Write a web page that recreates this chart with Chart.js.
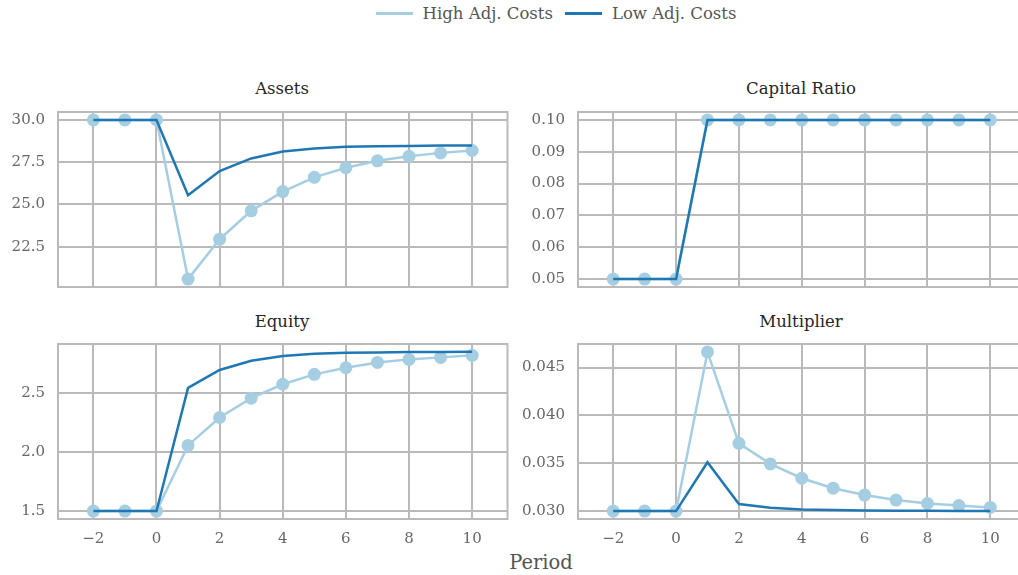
<!DOCTYPE html>
<html>
<head>
<meta charset="utf-8">
<script src="https://cdn.jsdelivr.net/npm/chart.js@4"></script>
<style>
  html, body { margin: 0; padding: 0; background: #fff; overflow: hidden; }
  body { width: 1018px; height: 575px; position: relative; font-family: "DejaVu Serif", serif; }
  .panel { position: absolute; }
  .title { position: absolute; font-size: 16.5px; color: #262626; text-align: center; transform: translateX(-50%); white-space: nowrap; }
  #legend { position: absolute; top: 4px; left: 0; width: 1100px; display: flex; justify-content: center; align-items: center; font-size: 16.5px; color: #555; }
  #legend span.sw { display: inline-block; width: 37px; height: 3px; margin: 0 10px 0 12px; }
  #period { position: absolute; top: 551px; left: 541px; transform: translateX(-50%); font-size: 19.5px; color: #555; }
</style>
</head>
<body>
<div id="legend">
  <span class="sw" style="background:#a6cee3"></span><span>High Adj. Costs</span>
  <span class="sw" style="background:#1f78b4"></span><span>Low Adj. Costs</span>
</div>

<div class="title" style="left:282px; top:79px">Assets</div>
<div class="title" style="left:801px; top:79px">Capital Ratio</div>
<div class="title" style="left:282px; top:312px">Equity</div>
<div class="title" style="left:801px; top:312px">Multiplier</div>
<div id="period">Period</div>

<div class="panel" style="left:0px; top:100px; width:514px; height:200px"><canvas id="assets"></canvas></div>
<div class="panel" style="left:520px; top:100px; width:512px; height:200px"><canvas id="capital"></canvas></div>
<div class="panel" style="left:0px; top:330px; width:514px; height:219px"><canvas id="equity"></canvas></div>
<div class="panel" style="left:520px; top:330px; width:512px; height:219px"><canvas id="multiplier"></canvas></div>

<script>
// data
const periods = [-2, -1, 0, 1, 2, 3, 4, 5, 6, 7, 8, 9, 10];
const xTicks = [-2, 0, 2, 4, 6, 8, 10];

const assetsHigh = [30, 30, 30, 20.58, 22.94, 24.62, 25.76, 26.60, 27.17, 27.58, 27.85, 28.05, 28.19];
const assetsLow  = [30, 30, 30, 25.54, 26.97, 27.72, 28.13, 28.31, 28.41, 28.44, 28.46, 28.48, 28.49];
const assetsTicks = [22.5, 25, 27.5, 30];

const capitalHigh = [0.05, 0.05, 0.05, 0.10, 0.10, 0.10, 0.10, 0.10, 0.10, 0.10, 0.10, 0.10, 0.10];
const capitalLow  = [0.05, 0.05, 0.05, 0.10, 0.10, 0.10, 0.10, 0.10, 0.10, 0.10, 0.10, 0.10, 0.10];
const capitalTicks = [0.05, 0.06, 0.07, 0.08, 0.09, 0.10];

const equityHigh = [1.5, 1.5, 1.5, 2.057, 2.294, 2.458, 2.576, 2.660, 2.716, 2.761, 2.787, 2.804, 2.821];
const equityLow  = [1.5, 1.5, 1.5, 2.545, 2.697, 2.775, 2.815, 2.834, 2.843, 2.846, 2.849, 2.850, 2.852];
const equityTicks = [1.5, 2.0, 2.5];

const multHigh = [0.03, 0.03, 0.03, 0.04663, 0.03708, 0.03493, 0.03343, 0.03239, 0.03167, 0.03115, 0.03079, 0.03058, 0.03038];
const multLow  = [0.03, 0.03, 0.03, 0.03510, 0.03073, 0.03034, 0.03017, 0.03010, 0.03006, 0.03004, 0.03002, 0.03001, 0.03000];
const multTicks = [0.030, 0.035, 0.040, 0.045];

const lightBlue = '#a6cee3';
const darkBlue = '#1f78b4';
const gridColor = '#bababa';
const tickColor = '#666666';

// matplotlib-style frame around the plot area
const framePlugin = {
    id: 'frame',
    beforeDatasetsDraw(chart) {
        const a = chart.chartArea;
        const ctx = chart.ctx;
        ctx.save();
        ctx.strokeStyle = gridColor;
        ctx.lineWidth = 2;
        ctx.strokeRect(a.left, a.top, a.right - a.left, a.bottom - a.top);
        ctx.restore();
    }
};

function makeChart(id, high, low, yMin, yMax, yTicks, decimals, showX) {
    const ctx = document.getElementById(id).getContext('2d');
    return new Chart(ctx, {
        type: 'line',
        data: {
            datasets: [
                {
                    label: 'High Adj. Costs',
                    data: periods.map((p, i) => ({ x: p, y: high[i] })),
                    borderColor: lightBlue,
                    backgroundColor: lightBlue,
                    borderWidth: 2.5,
                    pointRadius: 6.5,
                    pointBorderWidth: 0,
                    pointBackgroundColor: lightBlue,
                    order: 1,
                },
                {
                    label: 'Low Adj. Costs',
                    data: periods.map((p, i) => ({ x: p, y: low[i] })),
                    borderColor: darkBlue,
                    backgroundColor: darkBlue,
                    borderWidth: 2.5,
                    pointRadius: 0,
                    order: 0,
                },
            ],
        },
        options: {
            responsive: true,
            maintainAspectRatio: false,
            animation: false,
            layout: { padding: { top: showX ? 14 : 12, bottom: showX ? 0 : 13, left: 0, right: 0 } },
            plugins: { legend: { display: false }, tooltip: { enabled: false } },
            scales: {
                x: {
                    type: 'linear',
                    min: -3.12,
                    max: 11.12,
                    afterBuildTicks: (scale) => { scale.ticks = xTicks.map(v => ({ value: v })); },
                    afterFit: (scale) => { scale.height = showX ? 30 : 0; },
                    grid: { color: gridColor, lineWidth: 2, drawTicks: false },
                    border: { display: false },
                    ticks: {
                        display: showX,
                        color: tickColor,
                        padding: 11,
                        font: { family: 'DejaVu Serif', size: 15 },
                        callback: (v) => (v < 0 ? '\u2212' + Math.abs(v) : String(v)),
                    },
                },
                y: {
                    min: yMin,
                    max: yMax,
                    afterBuildTicks: (scale) => { scale.ticks = yTicks.map(v => ({ value: v })); },
                    afterFit: (scale) => { scale.width = 58; },
                    // invisible tick marks keep the label gap without extra vertical padding
                    grid: { color: gridColor, lineWidth: 2, drawTicks: true, tickLength: 13, tickColor: 'rgba(0,0,0,0)' },
                    border: { display: false },
                    ticks: {
                        color: tickColor,
                        padding: 0,
                        font: { family: 'DejaVu Serif', size: 15 },
                        callback: (v) => Number(v).toFixed(decimals),
                    },
                },
            },
        },
        plugins: [framePlugin],
    });
}

makeChart('assets', assetsHigh, assetsLow, 20.11, 30.47, assetsTicks, 1, false);
makeChart('capital', capitalHigh, capitalLow, 0.0475, 0.1025, capitalTicks, 2, false);
makeChart('equity', equityHigh, equityLow, 1.4325, 2.9175, equityTicks, 1, true);
makeChart('multiplier', multHigh, multLow, 0.02917, 0.04746, multTicks, 3, true);
</script>
</body>
</html>
